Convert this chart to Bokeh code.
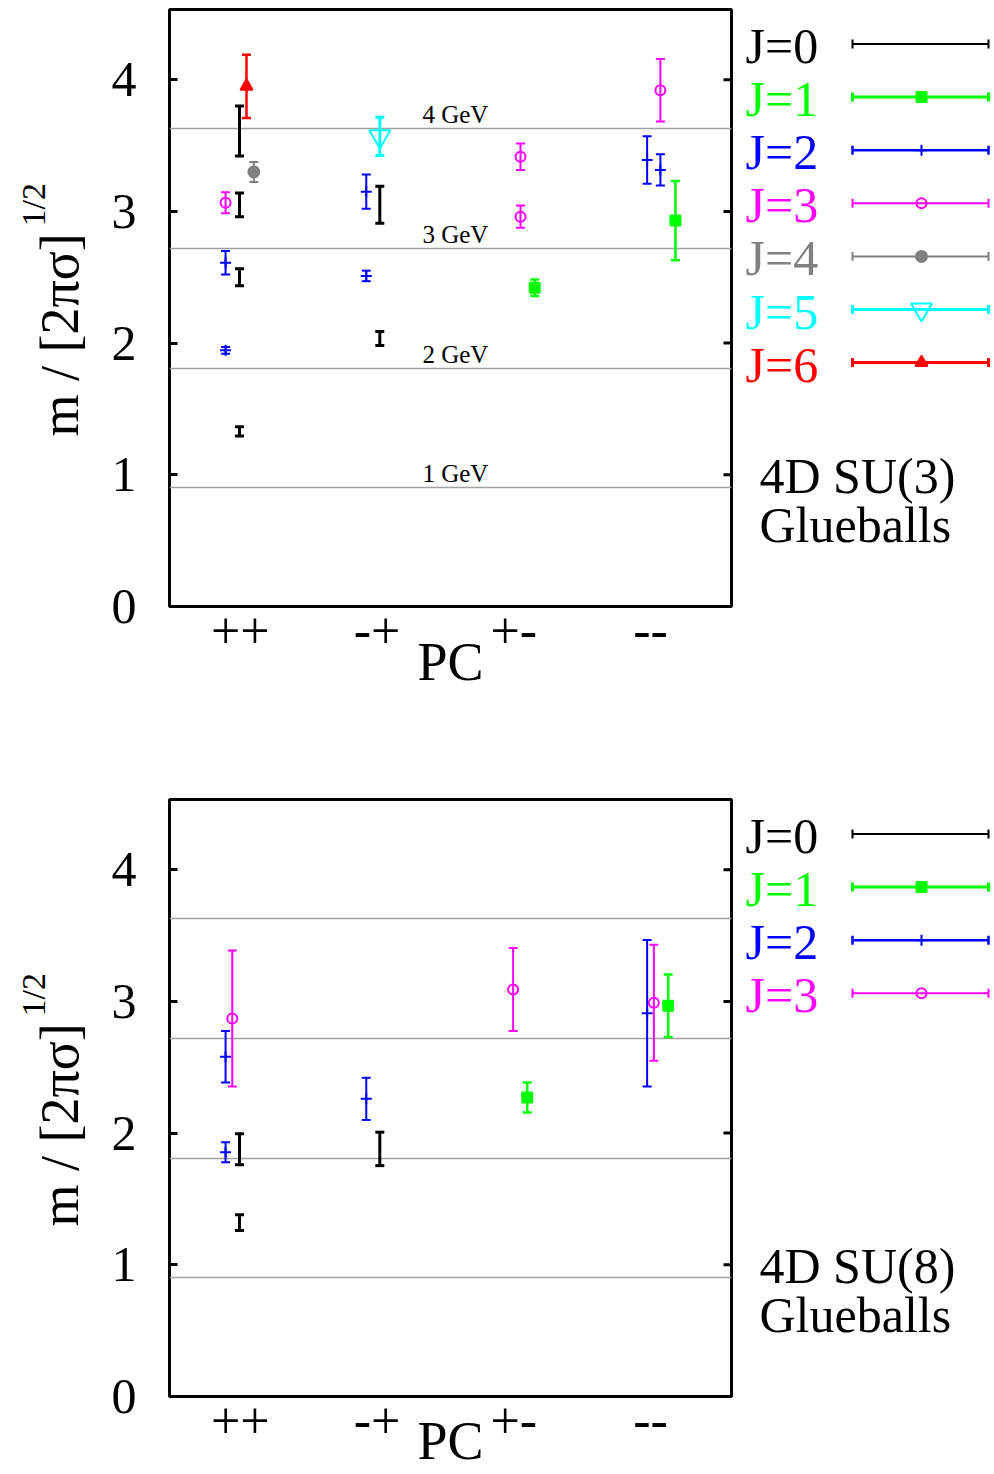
import math
from bokeh.plotting import figure
from bokeh.models import Range1d, FixedTicker
from bokeh.layouts import column, row
from bokeh.embed import file_html
from bokeh.resources import INLINE
from bokeh.core.properties import value

FONT = "Liberation Serif"

# ---------------- data ----------------
pc_ticks = [1, 2, 3, 4]
pc_labels = ["++", "-+", "+-", "--"]
y_ticks = [0, 1, 2, 3, 4]
gev_lines = [0.905, 1.81, 2.72, 3.63]
gev_labels = ["1 GeV", "2 GeV", "3 GeV", "4 GeV"]
gev_label_x = [2.332, 2.332, 2.332, 2.332]

# SU(3): x position (PC index + offset), mass, error
su3_j0_x = [0.994, 0.994, 0.994, 0.994, 2.020, 2.020]
su3_j0_y = [1.33, 2.50, 3.05, 3.61, 2.035, 3.05]
su3_j0_e = [0.035, 0.065, 0.09, 0.19, 0.053, 0.14]
su3_j1_x = [3.153, 4.182]
su3_j1_y = [2.42, 2.93]
su3_j1_e = [0.063, 0.30]
su3_j2_x = [0.892, 0.892, 1.921, 1.921, 3.975, 4.072]
su3_j2_y = [1.945, 2.61, 2.51, 3.15, 3.39, 3.315]
su3_j2_e = [0.025, 0.09, 0.04, 0.13, 0.18, 0.118]
su3_j3_x = [0.892, 3.049, 3.049, 4.072]
su3_j3_y = [3.065, 2.96, 3.415, 3.92]
su3_j3_e = [0.08, 0.085, 0.10, 0.237]
su3_j4_x = [1.099]
su3_j4_y = [3.30]
su3_j4_e = [0.076]
su3_j5_x = [2.020]
su3_j5_y = [3.57]
su3_j5_e = [0.145]
su3_j6_x = [1.045]
su3_j6_y = [3.95]
su3_j6_e = [0.24]

# SU(8)
su8_j0_x = [0.994, 0.994, 2.020]
su8_j0_y = [1.32, 1.877, 1.88]
su8_j0_e = [0.06, 0.118, 0.127]
su8_j1_x = [3.098, 4.129]
su8_j1_y = [2.27, 2.967]
su8_j1_e = [0.114, 0.238]
su8_j2_x = [0.892, 0.892, 1.921, 3.975]
su8_j2_y = [1.855, 2.58, 2.26, 2.91]
su8_j2_e = [0.076, 0.196, 0.16, 0.557]
su8_j3_x = [0.941, 2.995, 4.024]
su8_j3_y = [2.87, 3.09, 2.99]
su8_j3_e = [0.517, 0.315, 0.44]

# ---------------- styles ----------------
STY = {
    0: dict(color="#000000", marker="dot", size=4, filled=True, lw=3, llw=2),
    1: dict(color="#00ff00", marker="square", size=10, filled=True, lw=2.5, llw=3),
    2: dict(color="#0000ff", marker="cross", size=11, filled=False, lw=2, llw=2.5),
    3: dict(color="#ff00ff", marker="circle", size=10, filled=False, lw=2, llw=2),
    4: dict(color="#808080", marker="circle", size=11, filled=True, lw=2, llw=2),
    5: dict(color="#00ffff", marker="inverted_triangle", size=21, filled=False, lw=3, llw=3),
    6: dict(color="#ff0000", marker="triangle", size=12, filled=True, lw=2.5, llw=3),
}

XMIN, XMAX = 0.482, 4.592
YMIN, YMAX = 0.0, 4.533
FRAME_TOP, FRAME_BOTTOM = 9, 606      # panel-local pixel rows of the frame
YLAB_W = 95
MAIN_W = 169 - YLAB_W + 562 + 3
LEG_X0 = YLAB_W + MAIN_W
LEG_W = 994 - LEG_X0
BASE_FIX = 0.35   # alphabetic baseline correction (in em) for svg text


def draw_series(p, j, xs, ys, es):
    s = STY[j]
    lo = [y - e for y, e in zip(ys, es)]
    hi = [y + e for y, e in zip(ys, es)]
    p.segment(x0=xs, y0=lo, x1=xs, y1=hi, line_color=s["color"], line_width=s["lw"])
    p.scatter(x=xs + xs, y=lo + hi, marker="dash", size=9,
              line_color=s["color"], line_width=s["lw"])
    p.scatter(x=xs, y=ys, marker=s["marker"], size=s["size"],
              line_color=s["color"], line_width=2,
              fill_color=s["color"] if s["filled"] else None)


def make_main(height, series, with_gev_labels, pc_standoff):
    p = figure(width=MAIN_W, height=height, x_range=Range1d(XMIN, XMAX),
               y_range=Range1d(YMIN, YMAX), output_backend="svg",
               toolbar_location=None, min_border_left=169 - YLAB_W,
               min_border_right=3, min_border_top=FRAME_TOP,
               min_border_bottom=height - FRAME_BOTTOM,
               outline_line_color="black", outline_line_width=3,
               background_fill_color="white", border_fill_color="white")
    p.grid.visible = False
    # x axis
    xa = p.xaxis[0]
    xa.ticker = FixedTicker(ticks=pc_ticks)
    xa.major_label_overrides = {t: l for t, l in zip(pc_ticks, pc_labels)}
    xa.major_tick_line_color = None
    xa.minor_tick_line_color = None
    xa.axis_line_color = None
    xa.major_label_standoff = 0
    xa.major_label_text_font = FONT
    xa.major_label_text_font_size = "52px"
    xa.major_label_text_color = "black"
    xa.axis_label = "PC"
    xa.axis_label_text_font = FONT
    xa.axis_label_text_font_size = "54px"
    xa.axis_label_text_font_style = "normal"
    xa.axis_label_text_color = "black"
    xa.axis_label_standoff = pc_standoff
    # y axis
    ya = p.yaxis[0]
    ya.ticker = FixedTicker(ticks=y_ticks)
    ya.major_tick_in = 8
    ya.major_tick_out = 0
    ya.major_tick_line_width = 3
    ya.minor_tick_line_color = None
    ya.axis_line_color = None
    ya.major_label_standoff = 33
    ya.major_label_text_font = FONT
    ya.major_label_text_font_size = "50px"
    ya.major_label_text_color = "black"
    # mirrored ticks on the right edge (half of the dash is clipped by the frame)
    p.scatter(x=[XMAX] * len(y_ticks), y=y_ticks, marker="dash", size=16,
              line_color="black", line_width=3)

    p.hspan(y=gev_lines, line_color="#a0a0a0", line_width=1.5)
    if with_gev_labels:
        p.text(x=gev_label_x, y=gev_lines, text=gev_labels,
               text_font=value(FONT), text_font_size="25px",
               text_baseline="alphabetic", text_align="left",
               y_offset=-5 - BASE_FIX * 25, text_color="black")
    for j, xs, ys, es in series:
        draw_series(p, j, xs, ys, es)
    return p


def make_ylabel(height):
    q = figure(width=YLAB_W, height=height, x_range=Range1d(0, YLAB_W),
               y_range=Range1d(FRAME_BOTTOM, FRAME_TOP), output_backend="svg",
               toolbar_location=None, min_border=0, x_axis_type=None,
               y_axis_type=None, outline_line_color=None,
               background_fill_color="white", border_fill_color="white")
    q.grid.visible = False
    q.text(x=[78 - BASE_FIX * 54], y=[436], text=["m / [2\u03c0\u03c3]"],
           angle=math.pi / 2, text_font=value(FONT), text_font_size="54px",
           text_baseline="alphabetic", text_align="left", text_color="black")
    q.text(x=[45 - BASE_FIX * 34], y=[226], text=["1/2"], angle=math.pi / 2,
           text_font=value(FONT), text_font_size="34px",
           text_baseline="alphabetic", text_align="left", text_color="black")
    return q


def make_legend(height, js, title):
    q = figure(width=LEG_W, height=height, x_range=Range1d(LEG_X0, 994),
               y_range=Range1d(FRAME_BOTTOM, FRAME_TOP), output_backend="svg",
               toolbar_location=None, min_border=0, x_axis_type=None,
               y_axis_type=None, outline_line_color=None,
               background_fill_color="white", border_fill_color="white")
    q.grid.visible = False
    for i, j in enumerate(js):
        s = STY[j]
        yc = 43.5 + i * 53.1
        q.text(x=[745], y=[yc + 19.5 - BASE_FIX * 50], text=["J=%d" % j],
               text_font=value(FONT), text_font_size="50px",
               text_baseline="alphabetic", text_color=s["color"])
        q.segment(x0=[852], y0=[yc], x1=[988], y1=[yc], line_color=s["color"],
                  line_width=s["llw"])
        q.scatter(x=[852, 988], y=[yc, yc], marker="dash", angle=math.pi / 2,
                  size=9, line_color=s["color"], line_width=s["llw"])
        q.scatter(x=[921], y=[yc], marker=s["marker"],
                  size=s["size"] if j != 0 else 3,
                  line_color=s["color"], line_width=2,
                  fill_color=s["color"] if s["filled"] else None)
    q.text(x=[759, 759], y=[493 - BASE_FIX * 50, 542 - BASE_FIX * 50], text=title,
           text_font=value(FONT), text_font_size="50px",
           text_baseline="alphabetic", text_color="black")
    return q


su3_series = [
    (0, su3_j0_x, su3_j0_y, su3_j0_e),
    (1, su3_j1_x, su3_j1_y, su3_j1_e),
    (2, su3_j2_x, su3_j2_y, su3_j2_e),
    (3, su3_j3_x, su3_j3_y, su3_j3_e),
    (4, su3_j4_x, su3_j4_y, su3_j4_e),
    (5, su3_j5_x, su3_j5_y, su3_j5_e),
    (6, su3_j6_x, su3_j6_y, su3_j6_e),
]
su8_series = [
    (0, su8_j0_x, su8_j0_y, su8_j0_e),
    (1, su8_j1_x, su8_j1_y, su8_j1_e),
    (2, su8_j2_x, su8_j2_y, su8_j2_e),
    (3, su8_j3_x, su8_j3_y, su8_j3_e),
]

H1, H2 = 790, 684
top_row = row(make_ylabel(H1), make_main(H1, su3_series, True, -19),
              make_legend(H1, [0, 1, 2, 3, 4, 5, 6], ["4D SU(3)", "Glueballs"]),
              spacing=0)
bot_row = row(make_ylabel(H2), make_main(H2, su8_series, False, -30),
              make_legend(H2, [0, 1, 2, 3], ["4D SU(8)", "Glueballs"]),
              spacing=0)
layout = column(top_row, bot_row, spacing=0)

open("out.html", "w").write(file_html(layout, INLINE))
